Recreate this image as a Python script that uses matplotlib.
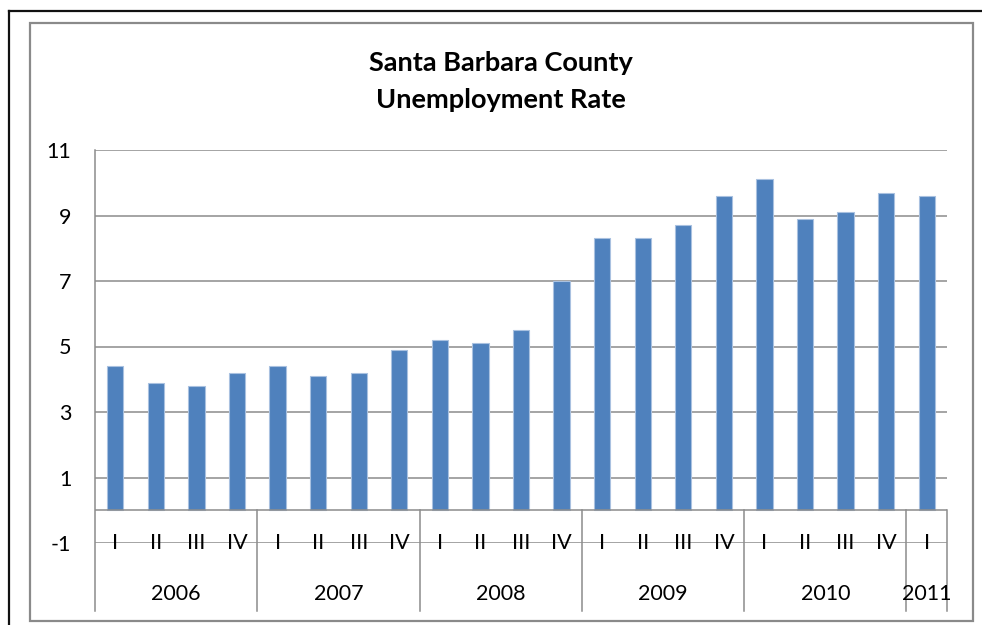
import matplotlib
matplotlib.use("Agg")
import matplotlib.pyplot as plt
from matplotlib.lines import Line2D
import numpy as np

plt.rcParams['font.family'] = ['Lato', 'DejaVu Sans']

# Quarterly unemployment rate, Santa Barbara County
years = ["2006", "2007", "2008", "2009", "2010", "2011"]
quarters_per_year = [4, 4, 4, 4, 4, 1]
quarter_names = ["I", "II", "III", "IV"]
rates = [4.4, 3.9, 3.8, 4.2,
         4.4, 4.1, 4.2, 4.9,
         5.2, 5.1, 5.5, 7.0,
         8.3, 8.3, 8.7, 9.6,
         10.1, 8.9, 9.1, 9.7,
         9.6]
yticks = [-1, 1, 3, 5, 7, 9, 11]

W, H = 982, 625
fig = plt.figure(figsize=(W / 100, H / 100), dpi=100)

def fx(px):
    return px / W

def fy(py):
    return 1 - py / H

# outer and inner frames
fig.add_artist(Line2D([fx(8.5), 1.0], [fy(10.5), fy(10.5)], transform=fig.transFigure,
                      color="#111111", lw=1.6))
fig.add_artist(Line2D([fx(8.5), fx(8.5)], [fy(10.5), 0.0], transform=fig.transFigure,
                      color="#111111", lw=1.6))
fig.add_artist(plt.Rectangle((fx(30), fy(621)), fx(973) - fx(30), fy(23) - fy(621),
                             transform=fig.transFigure, fill=False,
                             edgecolor="#8a8a8a", lw=1.6))

ax = fig.add_axes([fx(95), fy(543), fx(947) - fx(95), fy(150) - fy(543)])

quarter_labels = []
for n in quarters_per_year:
    quarter_labels += quarter_names[:n]
x = np.arange(len(rates))

ax.set_xlim(-0.5, len(rates) - 0.5)
ax.set_ylim(-1, 11)

grid_col = "#8c8c8c"
for v in yticks:
    ax.axhline(v, color=grid_col, lw=1.1, zorder=1)

ax.bar(x, rates, width=0.4, color="#4F81BD", edgecolor="#a9c1e0", lw=0.8, zorder=2)

# category axis line at zero
ax.axhline(0, color=grid_col, lw=1.1, zorder=3)

for s in ax.spines.values():
    s.set_visible(False)
ax.set_xticks([])
ax.set_yticks(yticks)
ax.set_yticklabels([str(v) for v in yticks], fontsize=15.5, color="#000000")
ax.tick_params(axis="y", length=0, pad=17)

xt = ax.get_xaxis_transform()
bottom_frac = -(611 - 543) / (543 - 150)
zero_frac = (0 - (-1)) / 12.0

# left axis line (extends down through the label area)
ax.add_line(Line2D([-0.5, -0.5], [1.0, bottom_frac], transform=xt, color=grid_col,
                   lw=1.1, clip_on=False))

# year separators
edges = np.concatenate([[0], np.cumsum(quarters_per_year)]) - 0.5
for e in edges[1:]:
    ax.add_line(Line2D([e, e], [zero_frac, bottom_frac], transform=xt, color=grid_col,
                       lw=1.1, clip_on=False))

# quarter labels on the -1 line
for xi, q in zip(x, quarter_labels):
    ax.text(xi, -1, q, ha="center", va="center", fontsize=15.5, clip_on=False, zorder=4)

# year labels
year_y = (510 - 593) / 32.6
for i, yr in enumerate(years):
    c = (edges[i] + edges[i + 1]) / 2
    ax.text(c, year_y, yr, ha="center", va="center", fontsize=15.5, clip_on=False)

fig.text(fx(501), fy(63), "Santa Barbara County", ha="center", va="center",
         fontsize=19.5, fontweight="bold")
fig.text(fx(501), fy(100), "Unemployment Rate", ha="center", va="center",
         fontsize=19.5, fontweight="bold")

fig.savefig("out.png", dpi=100)
